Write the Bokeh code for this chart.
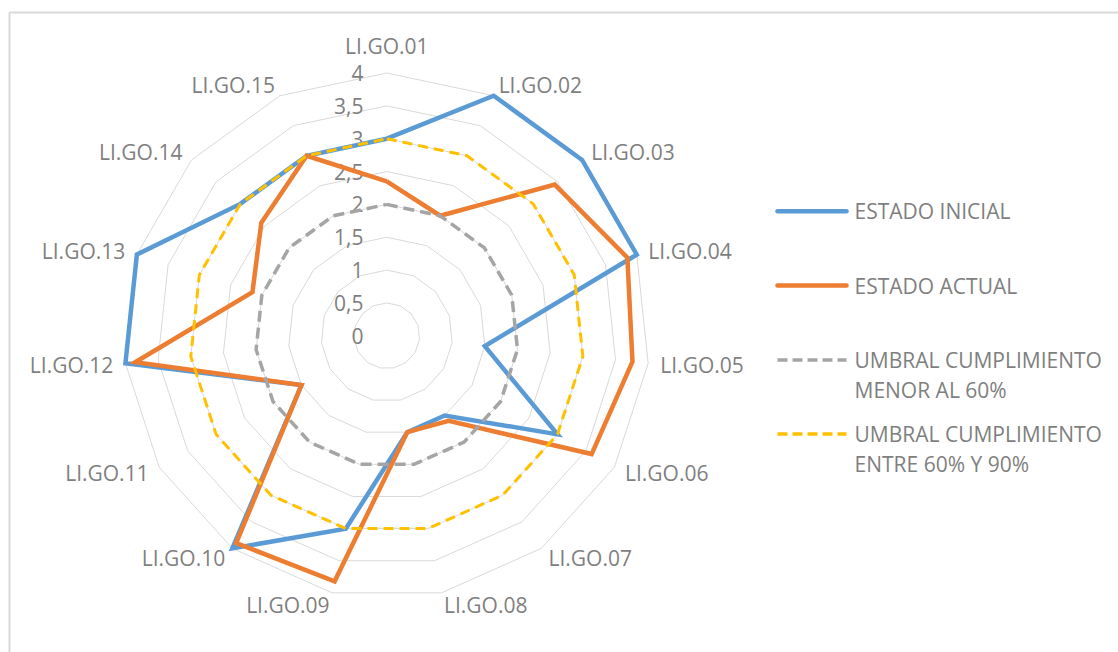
import numpy as np
from bokeh.plotting import figure
from bokeh.models import Range1d
from bokeh.core.properties import value
from bokeh.embed import file_html
from bokeh.resources import INLINE

# ---------------- data ----------------
categories = ["LI.GO.01", "LI.GO.02", "LI.GO.03", "LI.GO.04", "LI.GO.05",
              "LI.GO.06", "LI.GO.07", "LI.GO.08", "LI.GO.09", "LI.GO.10",
              "LI.GO.11", "LI.GO.12", "LI.GO.13", "LI.GO.14", "LI.GO.15"]
estado_inicial = [3, 4, 4, 4, 1.5, 3, 1.5, 1.5, 3, 4, 1.5, 4, 4, 3, 3]
estado_actual = [2.35, 2, 3.44, 3.85, 3.76, 3.6, 1.6, 1.5, 3.82, 3.9, 1.5, 3.85, 2.15, 2.57, 3]
umbral_menor_60 = [2, 2, 2, 2, 2, 2, 2, 2, 2, 2, 2, 2, 2, 2, 2]
umbral_entre_60_90 = [3, 3, 3, 3, 3, 3, 3, 3, 3, 3, 3, 3, 3, 3, 3]
tick_values = [0, 0.5, 1, 1.5, 2, 2.5, 3, 3.5, 4]
tick_labels = ["0", "0,5", "1", "1,5", "2", "2,5", "3", "3,5", "4"]
series_names = ["ESTADO INICIAL", "ESTADO ACTUAL",
                "UMBRAL CUMPLIMIENTO\nMENOR AL 60%",
                "UMBRAL CUMPLIMIENTO\nENTRE 60% Y 90%"]

# ---------------- styles ----------------
W, H = 1118, 652
CX, CY = 386.3, 335.3   # pixel position of the radar centre
U = 65.7                # pixels per value unit
FONT = value("Open Sans")
TXT = "#7f7f7f"
FS = "21px"

series_styles = [
    dict(color="#5B9BD5", width=4.5, dash="solid"),
    dict(color="#ED7D31", width=4.5, dash="solid"),
    dict(color="#A5A5A5", width=3.5, dash="11 6"),
    dict(color="#FFC000", width=3.0, dash="10 6"),
]


def px(x):
    return (x - CX) / U


def py(y):
    return (CY - y) / U


p = figure(width=W, height=H,
           x_range=Range1d(px(0), px(W)), y_range=Range1d(py(H), py(0)),
           output_backend="svg", toolbar_location=None,
           x_axis_type=None, y_axis_type=None,
           min_border=0, min_border_left=0, min_border_right=0,
           min_border_top=0, min_border_bottom=0)
p.grid.visible = False
p.outline_line_color = None
p.background_fill_color = "white"
p.border_fill_color = "white"

# chart frame (only top-left part visible)
p.line([px(9), px(9), px(1300)], [py(900), py(12), py(12)],
       line_color="#d9d9d9", line_width=2)

n = len(categories)
theta = np.pi / 2 - 2 * np.pi * np.arange(n) / n
cos_t, sin_t = np.cos(theta), np.sin(theta)


def closed(vals):
    v = np.asarray(vals, dtype=float)
    xs = v * cos_t
    ys = v * sin_t
    return list(xs) + [xs[0]], list(ys) + [ys[0]]


# grid rings
ring_xs, ring_ys = [], []
for t in tick_values[1:]:
    xs, ys = closed([t] * n)
    ring_xs.append(xs)
    ring_ys.append(ys)
p.multi_line(ring_xs, ring_ys, line_color="#d9d9d9", line_width=1)

# value labels
p.text(x=[px(363)] * len(tick_values), y=tick_values, text=tick_labels,
       text_align="right", text_baseline="middle", text_font=FONT,
       text_font_size=FS, text_color=TXT)

# series
all_series = [estado_inicial, estado_actual, umbral_menor_60, umbral_entre_60_90]
for vals, st in zip(all_series, series_styles):
    xs, ys = closed(vals)
    p.line(xs, ys, line_color=st["color"], line_width=st["width"],
           line_dash=st["dash"], line_join="miter")

# category labels
R_LAB = 275 / U
for k, cat in enumerate(categories):
    if k == 0:
        p.text(x=[0], y=[290 / U], text=[cat], text_align="center",
               text_baseline="middle", text_font=FONT, text_font_size=FS,
               text_color=TXT)
    else:
        align = "left" if k <= 7 else "right"
        p.text(x=[R_LAB * cos_t[k]], y=[R_LAB * sin_t[k]], text=[cat],
               text_align=align, text_baseline="middle", text_font=FONT,
               text_font_size=FS, text_color=TXT)

# legend
leg_y = [210.7, 285, 359.5, 433.5]
for name, st, yy in zip(series_names, series_styles, leg_y):
    lw = 4.5 if st["dash"] == "solid" else 3.5
    dash = "solid" if st["dash"] == "solid" else "10 5"
    p.line([px(777), px(846)], [py(yy), py(yy)], line_color=st["color"],
           line_width=lw, line_dash=dash, line_cap="round" if dash == "solid" else "butt")
    for j, line_txt in enumerate(name.split("\n")):
        p.text(x=[px(854)], y=[py(yy + j * 29.5)], text=[line_txt],
               text_align="left", text_baseline="middle", text_font=FONT,
               text_font_size=FS, text_color=TXT)

open("out.html", "w").write(file_html(p, INLINE))
